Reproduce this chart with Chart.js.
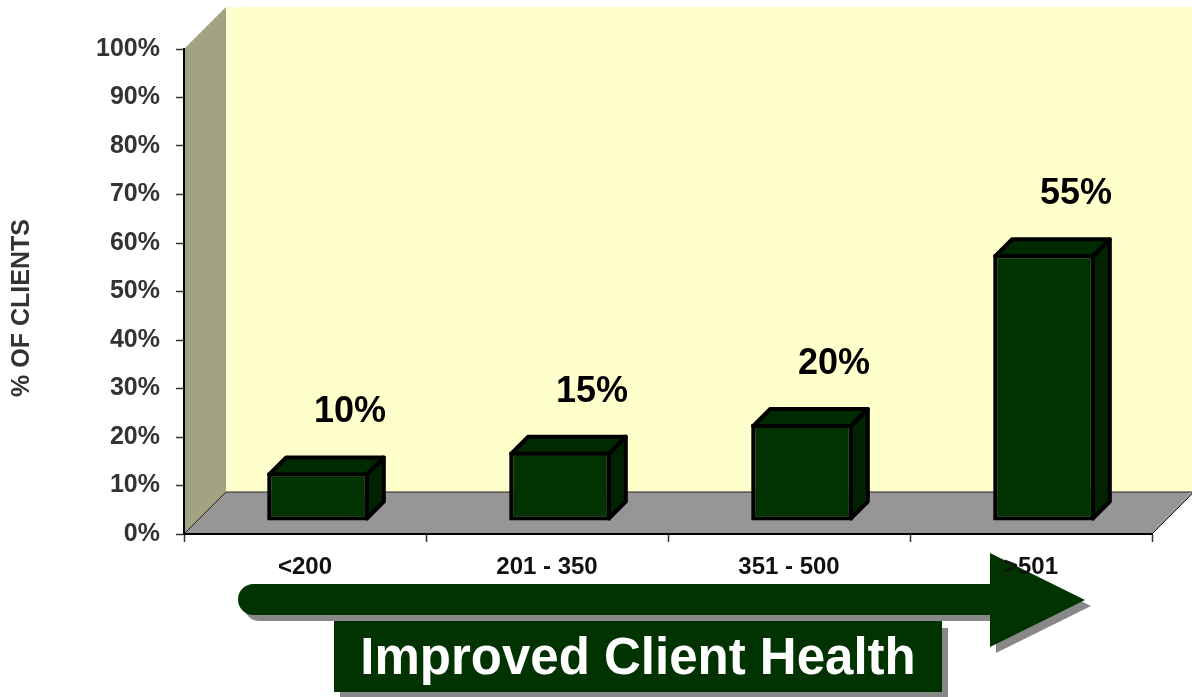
<!DOCTYPE html>
<html>
<head>
<meta charset="utf-8">
<script src="https://cdn.jsdelivr.net/npm/chart.js@4.4.1/dist/chart.umd.min.js"></script>
<style>
  body { margin: 0; background: #fff; }
  #wrap { width: 1192px; height: 697px; }
</style>
</head>
<body>
<div id="wrap"><canvas id="clientChart" width="1192" height="697"></canvas></div>
<script>
const categories = ['<200', '201 - 350', '351 - 500', '>501'];
const clientPct = [10, 14.3, 20, 55];
const pctLabels = ['10%', '15%', '20%', '55%'];
const arrowText = 'Improved Client Health';
const yTitle = '% OF CLIENTS';

const FONT = '"Liberation Sans", Arial, sans-serif';
const GREEN = '#003300';
const WALL_DEPTH = 42;   // offset of back wall
const BAR_DEPTH = 17;    // depth of each box
const BAR_SHIFT = 13;    // boxes sit a bit back on the floor

function poly(ctx, pts) {
  ctx.beginPath();
  ctx.moveTo(pts[0][0], pts[0][1]);
  for (let i = 1; i < pts.length; i++) ctx.lineTo(pts[i][0], pts[i][1]);
  ctx.closePath();
}

function drawArrow(ctx, dx, dy, color) {
  const r = 15.5;
  ctx.fillStyle = color;
  ctx.beginPath();
  ctx.moveTo(238 + r + dx, 584 + dy);
  ctx.lineTo(992 + dx, 584 + dy);
  ctx.lineTo(992 + dx, 615 + dy);
  ctx.lineTo(238 + r + dx, 615 + dy);
  ctx.arc(238 + r + dx, 599.5 + dy, r, Math.PI / 2, Math.PI * 1.5);
  ctx.closePath();
  ctx.fill();
  poly(ctx, [[990 + dx, 553 + dy], [1085 + dx, 600 + dy], [990 + dx, 647 + dy]]);
  ctx.fill();
}

const scene3d = {
  id: 'scene3d',
  beforeDraw(chart) {
    const { ctx, chartArea: a } = chart;
    const d = WALL_DEPTH;
    ctx.save();
    ctx.fillStyle = '#fff';
    ctx.fillRect(0, 0, chart.width, chart.height);

    // back wall
    ctx.fillStyle = '#ffffcc';
    ctx.fillRect(a.left + d, a.top - d, a.right - a.left + 2, a.bottom - a.top);
    // side wall
    ctx.fillStyle = '#a3a383';
    poly(ctx, [[a.left, a.top], [a.left + d, a.top - d], [a.left + d, a.bottom - d], [a.left, a.bottom]]);
    ctx.fill();
    // floor
    ctx.fillStyle = '#969696';
    poly(ctx, [[a.left, a.bottom], [a.left + d, a.bottom - d], [a.right + d, a.bottom - d], [a.right, a.bottom]]);
    ctx.fill();
    ctx.strokeStyle = '#222';
    ctx.lineWidth = 1;
    ctx.beginPath();
    ctx.moveTo(a.left, a.bottom);
    ctx.lineTo(a.left + d, a.bottom - d);
    ctx.lineTo(a.right + d, a.bottom - d);
    ctx.moveTo(a.right, a.bottom);
    ctx.lineTo(a.right + d, a.bottom - d);
    ctx.stroke();

    // y axis title
    ctx.save();
    ctx.translate(22, 308);
    ctx.rotate(-Math.PI / 2);
    ctx.font = 'bold 25px ' + FONT;
    ctx.fillStyle = '#333';
    ctx.textAlign = 'center';
    ctx.textBaseline = 'middle';
    ctx.fillText(yTitle, 0, 0);
    ctx.restore();

    // caption box with shadow
    ctx.fillStyle = '#888';
    ctx.fillRect(340, 628, 608, 70);
    ctx.fillStyle = GREEN;
    ctx.fillRect(334, 621, 608, 71);
    ctx.fillStyle = '#fff';
    ctx.font = 'bold 51px ' + FONT;
    ctx.textAlign = 'center';
    ctx.textBaseline = 'alphabetic';
    ctx.fillText(arrowText, 638, 674);

    // arrow with shadow
    drawArrow(ctx, 6, 6, '#888');
    drawArrow(ctx, 0, 0, GREEN);
    ctx.restore();
  },
  beforeDatasetsDraw(chart) {
    const ctx = chart.ctx;
    const d = BAR_DEPTH;
    ctx.save();
    ctx.translate(BAR_SHIFT, -BAR_SHIFT);
    chart.getDatasetMeta(0).data.forEach(bar => {
      const p = bar.getProps(['x', 'y', 'base', 'width'], true);
      const L = p.x - p.width / 2 + 2, R = p.x + p.width / 2 - 2;
      const T = p.y + 2, B = p.base - 2;
      ctx.lineWidth = 4;
      ctx.lineJoin = 'round';
      ctx.strokeStyle = '#000';
      ctx.fillStyle = '#002200';
      poly(ctx, [[R, T], [R + d, T - d], [R + d, B - d], [R, B]]);
      ctx.fill();
      ctx.stroke();
      ctx.fillStyle = '#002a00';
      poly(ctx, [[L, T], [R, T], [R + d, T - d], [L + d, T - d]]);
      ctx.fill();
      ctx.stroke();
    });
  },
  afterDatasetsDraw(chart) {
    const ctx = chart.ctx;
    ctx.restore();
    ctx.save();
    ctx.font = 'bold 36px ' + FONT;
    ctx.fillStyle = '#000';
    ctx.textAlign = 'center';
    ctx.textBaseline = 'middle';
    chart.getDatasetMeta(0).data.forEach((bar, i) => {
      ctx.fillText(pctLabels[i], bar.x + 45, bar.y - 73);
    });
    ctx.restore();
  }
};

const ctx = document.getElementById('clientChart').getContext('2d');
const clientChart = new Chart(ctx, {
  type: 'bar',
  data: {
    labels: categories,
    datasets: [{
      data: clientPct,
      backgroundColor: GREEN,
      borderColor: '#000',
      borderWidth: 4,
      borderSkipped: false,
      categoryPercentage: 1,
      barPercentage: 0.42
    }]
  },
  options: {
    responsive: false,
    animation: false,
    devicePixelRatio: 1,
    layout: { padding: { top: 49, right: 40, left: 0, bottom: 0 } },
    plugins: {
      legend: { display: false },
      tooltip: { enabled: false }
    },
    scales: {
      x: {
        afterFit: s => { s.height = 163; },
        grid: { drawOnChartArea: false, tickLength: 8, color: '#333', tickWidth: 1.5 },
        border: { color: '#000', width: 2 },
        ticks: {
          padding: 11,
          color: '#111',
          font: { family: FONT, size: 24, weight: 'bold' }
        }
      },
      y: {
        min: 0,
        max: 100,
        afterFit: s => { s.width = 184; },
        grid: { drawOnChartArea: false, tickLength: 8, color: '#333', tickWidth: 1.5 },
        border: { color: '#000', width: 2 },
        ticks: {
          stepSize: 10,
          padding: 16,
          color: '#333',
          font: { family: FONT, size: 25, weight: 'bold' },
          callback: v => v + '%'
        }
      }
    }
  },
  plugins: [scene3d]
});
</script>
</body>
</html>
